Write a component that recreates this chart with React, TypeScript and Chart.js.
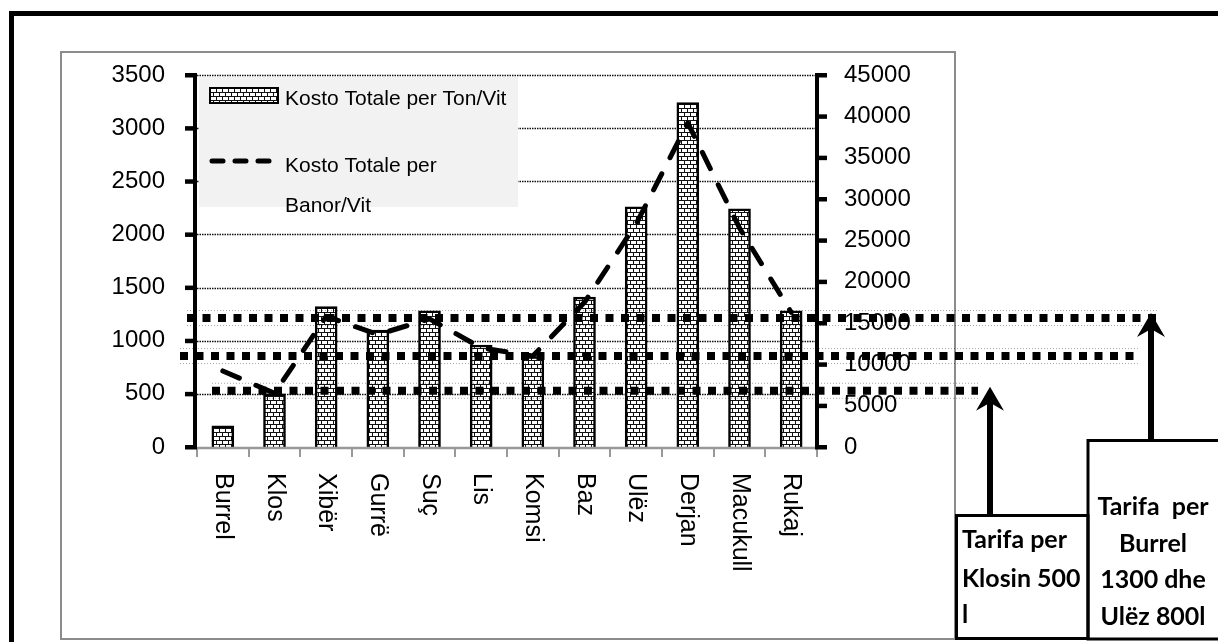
import React, { useEffect, useRef } from "react";
import { Chart, registerables } from "chart.js";

Chart.register(...registerables);

// ---------- data ----------
const categories = ["Burrel", "Klos", "Xibër", "Gurrë", "Suç", "Lis", "Komsi", "Baz", "Ulëz", "Derjan", "Macukull", "Rukaj"];
const costPerTon = [200, 500, 1320, 1100, 1280, 960, 850, 1410, 2260, 3240, 2240, 1280];
const costPerCapita = [9200, 6500, 15800, 13600, 15500, 12000, 11000, 17500, 27000, 39200, 26500, 16300];
const leftAxis = { min: 0, max: 3500, step: 500 };
const rightAxis = { min: 0, max: 45000, step: 5000 };
const tariffLevels = [15600, 11000, 6800];
const seriesLabels = ["Kosto Totale per Ton/Vit", "Kosto Totale per Banor/Vit"];
const legendLines = [["Kosto Totale per Ton/Vit"], ["Kosto Totale per", "Banor/Vit"]];
const noteKlos = ["Tarifa per", "Klosin 500", "l"];
const noteBurrel = ["Tarifa  per", "Burrel", "1300 dhe", "Ulëz 800l"];

const SANS = "'Liberation Sans', Arial, sans-serif";
const W = 1218;
const H = 642;

function makeBrick(ctx: CanvasRenderingContext2D): CanvasPattern | string {
  const c = document.createElement("canvas");
  c.width = 6;
  c.height = 8;
  const g = c.getContext("2d");
  if (!g) return "#fff";
  g.fillStyle = "#fff";
  g.fillRect(0, 0, 6, 8);
  g.fillStyle = "#111";
  g.fillRect(0, 0, 6, 1);
  g.fillRect(0, 4, 6, 1);
  g.fillRect(0, 0, 1, 4);
  g.fillRect(3, 4, 1, 4);
  return ctx.createPattern(c, "repeat") || "#fff";
}

function dottedLine(ctx: CanvasRenderingContext2D, x1: number, x2: number, y: number) {
  ctx.save();
  ctx.strokeStyle = "rgba(0,0,0,0.35)";
  ctx.lineWidth = 1;
  ctx.setLineDash([1, 2]);
  ctx.beginPath();
  ctx.moveTo(x1, y - 7.5);
  ctx.lineTo(x2, y - 7.5);
  ctx.moveTo(x1, y + 7.5);
  ctx.lineTo(x2, y + 7.5);
  ctx.stroke();
  ctx.strokeStyle = "#000";
  ctx.lineWidth = 8;
  ctx.setLineDash([8, 7.5]);
  ctx.beginPath();
  ctx.moveTo(x1, y);
  ctx.lineTo(x2, y);
  ctx.stroke();
  ctx.restore();
}

function arrow(ctx: CanvasRenderingContext2D, x: number, tipY: number, baseY: number) {
  ctx.save();
  ctx.fillStyle = "#000";
  ctx.strokeStyle = "#000";
  ctx.lineWidth = 6;
  ctx.beginPath();
  ctx.moveTo(x, tipY + 12);
  ctx.lineTo(x, baseY);
  ctx.stroke();
  ctx.beginPath();
  ctx.moveTo(x, tipY);
  ctx.lineTo(x - 14, tipY + 24);
  ctx.lineTo(x, tipY + 16);
  ctx.lineTo(x + 14, tipY + 24);
  ctx.closePath();
  ctx.fill();
  ctx.restore();
}

export default function App() {
  const ref = useRef<HTMLCanvasElement | null>(null);

  useEffect(() => {
    const canvas = ref.current;
    if (!canvas) return;
    const ctx0 = canvas.getContext("2d");
    if (!ctx0) return;
    const brick = makeBrick(ctx0);

    const decor = {
      id: "decor",
      beforeDraw(chart: any) {
        const { ctx } = chart;
        ctx.save();
        ctx.fillStyle = "#fff";
        ctx.fillRect(0, 0, W, H);
        ctx.strokeStyle = "#000";
        ctx.lineWidth = 5;
        ctx.strokeRect(11.5, 13.5, W + 40, H + 40);
        ctx.strokeStyle = "#8c8c8c";
        ctx.lineWidth = 2;
        ctx.strokeRect(61, 52, 894, 587);
        ctx.restore();
      },
      beforeDatasetsDraw(chart: any) {
        const { ctx, chartArea } = chart;
        const y = chart.scales.y;
        ctx.save();
        ctx.strokeStyle = "#111";
        ctx.lineWidth = 1.5;
        ctx.setLineDash([1.5, 1]);
        y.ticks.forEach((t: any) => {
          if (t.value === 0) return;
          const py = Math.round(y.getPixelForValue(t.value)) + 0.5;
          ctx.beginPath();
          ctx.moveTo(chartArea.left, py);
          ctx.lineTo(chartArea.right, py);
          ctx.stroke();
        });
        ctx.setLineDash([]);
        // legend
        ctx.fillStyle = "#f2f2f2";
        ctx.fillRect(chartArea.left + 2, chartArea.top + 2, 319, 130);
        ctx.fillStyle = brick;
        ctx.fillRect(210, 88, 68, 15);
        ctx.strokeStyle = "#000";
        ctx.lineWidth = 2;
        ctx.strokeRect(210, 88, 68, 15);
        ctx.lineWidth = 5;
        ctx.lineCap = "round";
        ctx.setLineDash([11, 12]);
        ctx.beginPath();
        ctx.moveTo(212, 161);
        ctx.lineTo(272, 161);
        ctx.stroke();
        ctx.setLineDash([]);
        ctx.fillStyle = "#000";
        ctx.font = `21px ${SANS}`;
        ctx.textAlign = "left";
        ctx.textBaseline = "alphabetic";
        ctx.fillText(legendLines[0][0], 285, 105);
        ctx.fillText(legendLines[1][0], 285, 172);
        ctx.fillText(legendLines[1][1], 285, 212);
        ctx.restore();
      },
      afterDatasetsDraw(chart: any) {
        const { ctx, chartArea } = chart;
        const y = chart.scales.y;
        const y1 = chart.scales.y1;
        const x = chart.scales.x;
        const { left, right, top, bottom } = chartArea;
        ctx.save();
        // x axis
        ctx.strokeStyle = "#999";
        ctx.lineWidth = 2.5;
        ctx.beginPath();
        ctx.moveTo(left, bottom + 1);
        ctx.lineTo(right, bottom + 1);
        ctx.stroke();
        ctx.lineWidth = 2;
        const n = categories.length;
        for (let i = 0; i <= n; i++) {
          const bx = Math.round(left + (i * (right - left)) / n);
          ctx.beginPath();
          ctx.moveTo(bx, bottom);
          ctx.lineTo(bx, bottom + 10);
          ctx.stroke();
        }
        // left axis
        ctx.fillStyle = "#000";
        ctx.fillRect(left - 4, top - 2, 4, bottom - top + 4);
        y.ticks.forEach((t: any) => {
          const py = y.getPixelForValue(t.value);
          ctx.fillRect(left - 12, py - 2, 12, 4.5);
        });
        // right axis
        ctx.fillRect(right - 2, top - 2, 4, bottom - top + 4);
        y1.ticks.forEach((t: any) => {
          const py = y1.getPixelForValue(t.value);
          ctx.fillRect(right - 2, py - 2, 12, 4.5);
        });
        // category labels (rotated clockwise)
        ctx.font = `25px ${SANS}`;
        ctx.textAlign = "left";
        ctx.textBaseline = "middle";
        categories.forEach((c, i) => {
          const cx = x.getPixelForValue(i);
          ctx.save();
          ctx.translate(cx, bottom + 26);
          ctx.rotate(Math.PI / 2);
          ctx.fillText(c, 0, 0);
          ctx.restore();
        });
        // tariff lines
        const spans = [
          [187, 1157],
          [180, 1140],
          [212, 978],
        ];
        tariffLevels.forEach((lv, i) => {
          const py = y1.getPixelForValue(lv);
          dottedLine(ctx, spans[i][0], spans[i][1], py);
        });
        // arrows
        arrow(ctx, 990, y1.getPixelForValue(tariffLevels[2]) - 4, 516);
        arrow(ctx, 1151, y1.getPixelForValue(tariffLevels[0]) - 5, 441);
        // note boxes
        ctx.fillStyle = "#fff";
        ctx.fillRect(957, 516, 131, 124);
        ctx.fillRect(1089, 441, 140, 200);
        ctx.strokeStyle = "#000";
        ctx.lineWidth = 3;
        ctx.strokeRect(956.5, 515.5, 131.5, 123);
        ctx.strokeRect(1088, 440.5, 150, 198.5);
        ctx.fillStyle = "#000";
        ctx.font = "bold 24px Lato, 'Open Sans', sans-serif";
        ctx.textBaseline = "alphabetic";
        const sx = 1.04;
        ctx.textAlign = "left";
        const b1 = [548, 587, 623];
        noteKlos.forEach((s, i) => {
          ctx.save();
          ctx.translate(962, b1[i]);
          ctx.scale(sx, 1);
          ctx.fillText(s, 0, 0);
          ctx.restore();
        });
        ctx.textAlign = "center";
        const b2 = [515, 552, 588, 625];
        noteBurrel.forEach((s, i) => {
          ctx.save();
          ctx.translate(1153, b2[i]);
          ctx.scale(sx, 1);
          ctx.fillText(s, 0, 0);
          ctx.restore();
        });
        ctx.restore();
      },
    };

    const chart = new Chart(canvas, {
      type: "bar",
      data: {
        labels: categories,
        datasets: [
          {
            type: "line",
            label: seriesLabels[1],
            data: costPerCapita,
            yAxisID: "y1",
            borderColor: "#000",
            borderWidth: 5,
            borderDash: [18, 18],
            borderCapStyle: "round",
            borderJoinStyle: "round",
            pointRadius: 0,
            fill: false,
            tension: 0,
            order: 0,
          } as any,
          {
            type: "bar",
            label: seriesLabels[0],
            data: costPerTon,
            yAxisID: "y",
            backgroundColor: brick as any,
            borderColor: "#000",
            borderWidth: 2.5,
            barThickness: 22,
            order: 1,
          } as any,
        ],
      },
      options: {
        responsive: false,
        animation: false,
        devicePixelRatio: 1,
        events: [],
        layout: { padding: { top: 75, left: 0, right: 0, bottom: 0 } },
        plugins: { legend: { display: false }, tooltip: { enabled: false } },
        scales: {
          x: {
            type: "category",
            offset: true,
            grid: { display: false, drawTicks: false },
            border: { display: false },
            ticks: { display: false },
            afterFit: (s: any) => {
              s.height = H - 447;
            },
          },
          y: {
            type: "linear",
            position: "left",
            min: leftAxis.min,
            max: leftAxis.max,
            grid: { display: false, drawTicks: false },
            border: { display: false },
            ticks: {
              stepSize: leftAxis.step,
              padding: 32,
              color: "#000",
              font: { family: SANS, size: 24 },
              callback: (v: any) => `${v}`,
            },
            afterFit: (s: any) => {
              s.width = 197;
            },
          },
          y1: {
            type: "linear",
            position: "right",
            min: rightAxis.min,
            max: rightAxis.max,
            grid: { display: false, drawTicks: false },
            border: { display: false },
            ticks: {
              stepSize: rightAxis.step,
              padding: 27,
              color: "#000",
              font: { family: SANS, size: 24 },
              callback: (v: any) => `${v}`,
            },
            afterFit: (s: any) => {
              s.width = W - 817;
            },
          },
        },
      } as any,
      plugins: [decor],
    });

    return () => chart.destroy();
  }, []);

  return (
    <div style={{ position: "absolute", left: 0, top: 0, width: W, height: H, background: "#fff" }}>
      <canvas ref={ref} width={W} height={H} style={{ display: "block" }} />
    </div>
  );
}
